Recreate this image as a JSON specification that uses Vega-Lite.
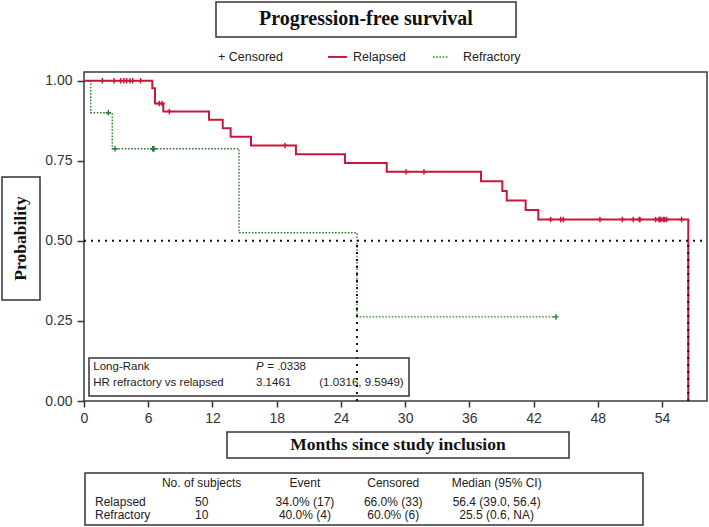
{
  "$schema": "https://vega.github.io/schema/vega-lite/v6.json",
  "width": 623,
  "height": 329,
  "autosize": {"type": "none"},
  "padding": {"left": 84, "top": 72, "right": 2, "bottom": 126},
  "background": "white",
  "data": {"values": [{"anchor": 1}]},
  "config": {
    "view": {"stroke": "#3a3a3a", "strokeWidth": 1.5},
    "font": "Liberation Sans",
    "axis": {
      "labelFont": "Liberation Sans",
      "labelFontSize": 14,
      "labelColor": "#333333",
      "tickColor": "#333333",
      "tickWidth": 1.5,
      "domain": false,
      "grid": false,
      "labelFlush": false
    }
  },
  "datasets": {
    "km": [
      {"t": 0, "s": 1, "group": "Relapsed"},
      {"t": 6.38, "s": 0.976, "group": "Relapsed"},
      {"t": 6.63, "s": 0.9286, "group": "Relapsed"},
      {"t": 7.41, "s": 0.9035, "group": "Relapsed"},
      {"t": 11.68, "s": 0.8777, "group": "Relapsed"},
      {"t": 12.96, "s": 0.8511, "group": "Relapsed"},
      {"t": 13.7, "s": 0.8245, "group": "Relapsed"},
      {"t": 15.6, "s": 0.7979, "group": "Relapsed"},
      {"t": 19.8, "s": 0.7704, "group": "Relapsed"},
      {"t": 24.38, "s": 0.7429, "group": "Relapsed"},
      {"t": 28.28, "s": 0.7154, "group": "Relapsed"},
      {"t": 37.09, "s": 0.6856, "group": "Relapsed"},
      {"t": 39.08, "s": 0.6558, "group": "Relapsed"},
      {"t": 39.49, "s": 0.626, "group": "Relapsed"},
      {"t": 41.26, "s": 0.5962, "group": "Relapsed"},
      {"t": 42.44, "s": 0.5664, "group": "Relapsed"},
      {"t": 56.45, "s": 0, "group": "Relapsed"},
      {"t": 0, "s": 1, "group": "Refractory"},
      {"t": 0.63, "s": 0.9, "group": "Refractory"},
      {"t": 2.64, "s": 0.7875, "group": "Refractory"},
      {"t": 14.48, "s": 0.525, "group": "Refractory"},
      {"t": 25.5, "s": 0.2625, "group": "Refractory"},
      {"t": 44.09, "s": 0.2625, "group": "Refractory"}
    ],
    "censor": [
      {"t": 1.71, "s": 1, "group": "Relapsed"},
      {"t": 2.8, "s": 1, "group": "Relapsed"},
      {"t": 3.42, "s": 1, "group": "Relapsed"},
      {"t": 3.73, "s": 1, "group": "Relapsed"},
      {"t": 3.98, "s": 1, "group": "Relapsed"},
      {"t": 4.29, "s": 1, "group": "Relapsed"},
      {"t": 4.55, "s": 1, "group": "Relapsed"},
      {"t": 5.29, "s": 1, "group": "Relapsed"},
      {"t": 7.03, "s": 0.9286, "group": "Relapsed"},
      {"t": 7.29, "s": 0.9286, "group": "Relapsed"},
      {"t": 7.97, "s": 0.9035, "group": "Relapsed"},
      {"t": 18.78, "s": 0.7979, "group": "Relapsed"},
      {"t": 30.08, "s": 0.7154, "group": "Relapsed"},
      {"t": 31.76, "s": 0.7154, "group": "Relapsed"},
      {"t": 43.6, "s": 0.5664, "group": "Relapsed"},
      {"t": 44.53, "s": 0.5664, "group": "Relapsed"},
      {"t": 44.77, "s": 0.5664, "group": "Relapsed"},
      {"t": 48.2, "s": 0.5664, "group": "Relapsed"},
      {"t": 50.29, "s": 0.5664, "group": "Relapsed"},
      {"t": 51.31, "s": 0.5664, "group": "Relapsed"},
      {"t": 51.87, "s": 0.5664, "group": "Relapsed"},
      {"t": 51.94, "s": 0.5664, "group": "Relapsed"},
      {"t": 53.4, "s": 0.5664, "group": "Relapsed"},
      {"t": 53.71, "s": 0.5664, "group": "Relapsed"},
      {"t": 53.8, "s": 0.5664, "group": "Relapsed"},
      {"t": 53.9, "s": 0.5664, "group": "Relapsed"},
      {"t": 54.12, "s": 0.5664, "group": "Relapsed"},
      {"t": 54.25, "s": 0.5664, "group": "Relapsed"},
      {"t": 54.43, "s": 0.5664, "group": "Relapsed"},
      {"t": 55.83, "s": 0.5664, "group": "Relapsed"},
      {"t": 2.27, "s": 0.9, "group": "Refractory"},
      {"t": 2.9, "s": 0.7875, "group": "Refractory"},
      {"t": 6.42, "s": 0.7875, "group": "Refractory"},
      {"t": 6.48, "s": 0.7875, "group": "Refractory"},
      {"t": 6.54, "s": 0.7875, "group": "Refractory"},
      {"t": 44.09, "s": 0.2625, "group": "Refractory"}
    ],
    "table": [
      {"group": "Relapsed", "n": "50", "event": "34.0% (17)", "censored": "66.0% (33)", "median": "56.4 (39.0, 56.4)"},
      {"group": "Refractory", "n": "10", "event": "40.0% (4)", "censored": "60.0% (6)", "median": "25.5 (0.6, NA)"}
    ]
  },
  "layer": [
    {
      "data": {"name": "km"},
      "transform": [{"filter": "datum.group === 'Refractory'"}],
      "mark": {"type": "line", "interpolate": "step-after", "color": "#2f7d32", "strokeWidth": 1.4, "strokeDash": [1.6, 1.6]},
      "encoding": {
        "x": {"field": "t", "type": "quantitative", "scale": {"domain": [0, 58.2], "nice": false, "zero": false},
              "axis": {"values": [0, 6, 12, 18, 24, 30, 36, 42, 48, 54], "title": null, "tickSize": 6, "labelPadding": 4}},
        "y": {"field": "s", "type": "quantitative", "scale": {"domain": [0, 1.027], "nice": false, "zero": false},
              "axis": {"values": [0, 0.25, 0.5, 0.75, 1], "format": ".2f", "title": null, "tickSize": 7, "labelPadding": 5}}
      }
    },
    {
      "data": {"name": "km"},
      "transform": [{"filter": "datum.group === 'Relapsed'"}],
      "mark": {"type": "line", "interpolate": "step-after", "color": "#c8163c", "strokeWidth": 2},
      "encoding": {
        "x": {"field": "t", "type": "quantitative", "title": null},
        "y": {"field": "s", "type": "quantitative", "title": null}
      }
    },
    {
      "data": {"name": "censor"},
      "mark": {"type": "point", "shape": "M0,-1L0,1M-1,0L1,0", "filled": false, "size": 30, "strokeWidth": 1.4, "opacity": 1},
      "encoding": {
        "x": {"field": "t", "type": "quantitative", "title": null},
        "y": {"field": "s", "type": "quantitative", "title": null},
        "color": {"field": "group", "type": "nominal", "scale": {"domain": ["Relapsed", "Refractory"], "range": ["#c8163c", "#2f7d32"]}, "legend": null}
      }
    },
    {
      "mark": {"type": "rule", "color": "#111111", "strokeWidth": 2, "strokeDash": [2, 5]},
      "encoding": {
        "x": {"datum": 0, "title": null},
        "x2": {"datum": 58.2},
        "y": {"datum": 0.5, "title": null}
      }
    },
    {
      "mark": {"type": "rule", "color": "#111111", "strokeWidth": 2, "strokeDash": [2, 5]},
      "encoding": {
        "x": {"datum": 25.5, "title": null},
        "y": {"datum": 0, "title": null},
        "y2": {"datum": 0.5}
      }
    },
    {
      "mark": {"type": "rule", "color": "#111111", "strokeWidth": 2, "strokeDash": [2, 5]},
      "encoding": {
        "x": {"datum": 56.45, "title": null},
        "y": {"datum": 0, "title": null},
        "y2": {"datum": 0.5}
      }
    },
    {
      "mark": {"type": "rect", "fill": "white", "stroke": "#333333", "strokeWidth": 1.5},
      "encoding": {
        "x": {"datum": 12.33, "title": null}, "x2": {"datum": 40.36},
        "y": {"datum": 1.2457, "title": null}, "y2": {"datum": 1.1364}
      }
    },
    {
      "mark": {"type": "text", "text": "Progression-free survival", "font": "Liberation Serif", "fontWeight": "bold", "fontSize": 20, "color": "#111111", "align": "center", "baseline": "middle"},
      "encoding": {"x": {"datum": 26.34, "title": null}, "y": {"datum": 1.191, "title": null}}
    },
    {
      "mark": {"type": "text", "text": "+ Censored", "fontSize": 12.5, "color": "#222222", "align": "left", "baseline": "middle"},
      "encoding": {"x": {"datum": 12.52, "title": null}, "y": {"datum": 1.074, "title": null}}
    },
    {
      "mark": {"type": "rule", "color": "#c8163c", "strokeWidth": 2},
      "encoding": {"x": {"datum": 22.79, "title": null}, "x2": {"datum": 24.57}, "y": {"datum": 1.074, "title": null}}
    },
    {
      "mark": {"type": "text", "text": "Relapsed", "fontSize": 12.5, "color": "#222222", "align": "left", "baseline": "middle"},
      "encoding": {"x": {"datum": 25.13, "title": null}, "y": {"datum": 1.074, "title": null}}
    },
    {
      "mark": {"type": "rule", "color": "#2f7d32", "strokeWidth": 1.4, "strokeDash": [1.6, 1.6]},
      "encoding": {"x": {"datum": 32.6, "title": null}, "x2": {"datum": 34.0}, "y": {"datum": 1.074, "title": null}}
    },
    {
      "mark": {"type": "text", "text": "Refractory", "fontSize": 12.5, "color": "#222222", "align": "left", "baseline": "middle"},
      "encoding": {"x": {"datum": 35.4, "title": null}, "y": {"datum": 1.074, "title": null}}
    },
    {
      "mark": {"type": "rect", "fill": "white", "stroke": "#333333", "strokeWidth": 1.5},
      "encoding": {
        "x": {"datum": -7.66, "title": null}, "x2": {"datum": -4.11},
        "y": {"datum": 0.6994, "title": null}, "y2": {"datum": 0.3153}
      }
    },
    {
      "mark": {"type": "text", "text": "Probability", "font": "Liberation Serif", "fontWeight": "bold", "fontSize": 17.5, "color": "#111111", "align": "center", "baseline": "middle", "angle": 270},
      "encoding": {"x": {"datum": -5.885, "title": null}, "y": {"datum": 0.5073, "title": null}}
    },
    {
      "mark": {"type": "rect", "fill": "white", "stroke": "#333333", "strokeWidth": 1.5},
      "encoding": {
        "x": {"datum": 13.36, "title": null}, "x2": {"datum": 45.31},
        "y": {"datum": -0.0968, "title": null}, "y2": {"datum": -0.178}
      }
    },
    {
      "mark": {"type": "text", "text": "Months since study inclusion", "font": "Liberation Serif", "fontWeight": "bold", "fontSize": 17.5, "color": "#111111", "align": "center", "baseline": "middle"},
      "encoding": {"x": {"datum": 29.33, "title": null}, "y": {"datum": -0.1374, "title": null}}
    },
    {
      "mark": {"type": "rect", "fillOpacity": 0, "stroke": "#333333", "strokeWidth": 1.5},
      "encoding": {
        "x": {"datum": 0.467, "title": null}, "x2": {"datum": 30.36},
        "y": {"datum": 0.1342, "title": null}, "y2": {"datum": 0.0156}
      }
    },
    {
      "mark": {"type": "text", "text": "Long-Rank", "fontSize": 11.5, "color": "#222222", "align": "left", "baseline": "middle"},
      "encoding": {"x": {"datum": 0.869, "title": null}, "y": {"datum": 0.1071, "title": null}}
    },
    {
      "mark": {"type": "text", "text": "HR refractory vs relapsed", "fontSize": 11.5, "color": "#222222", "align": "left", "baseline": "middle"},
      "encoding": {"x": {"datum": 0.869, "title": null}, "y": {"datum": 0.0553, "title": null}}
    },
    {
      "mark": {"type": "text", "text": "P", "fontStyle": "italic", "fontSize": 11.5, "color": "#222222", "align": "left", "baseline": "middle"},
      "encoding": {"x": {"datum": 16.07, "title": null}, "y": {"datum": 0.1071, "title": null}}
    },
    {
      "mark": {"type": "text", "text": "= .0338", "fontSize": 11.5, "color": "#222222", "align": "left", "baseline": "middle"},
      "encoding": {"x": {"datum": 17.12, "title": null}, "y": {"datum": 0.1071, "title": null}}
    },
    {
      "mark": {"type": "text", "text": "3.1461", "fontSize": 11.5, "color": "#222222", "align": "left", "baseline": "middle"},
      "encoding": {"x": {"datum": 16.07, "title": null}, "y": {"datum": 0.0553, "title": null}}
    },
    {
      "mark": {"type": "text", "text": "(1.0316, 9.5949)", "fontSize": 11.5, "color": "#222222", "align": "left", "baseline": "middle"},
      "encoding": {"x": {"datum": 21.98, "title": null}, "y": {"datum": 0.0553, "title": null}}
    },
    {
      "mark": {"type": "rect", "fill": "white", "stroke": "#333333", "strokeWidth": 1.5},
      "encoding": {
        "x": {"datum": 0.093, "title": null}, "x2": {"datum": 52.22},
        "y": {"datum": -0.2248, "title": null}, "y2": {"datum": -0.3871}
      }
    },
    {
      "mark": {"type": "text", "text": "No. of subjects", "fontSize": 12, "color": "#222222", "align": "center", "baseline": "middle"},
      "encoding": {"x": {"datum": 10.99, "title": null}, "y": {"datum": -0.257, "title": null}}
    },
    {
      "mark": {"type": "text", "text": "Event", "fontSize": 12, "color": "#222222", "align": "center", "baseline": "middle"},
      "encoding": {"x": {"datum": 20.64, "title": null}, "y": {"datum": -0.257, "title": null}}
    },
    {
      "mark": {"type": "text", "text": "Censored", "fontSize": 12, "color": "#222222", "align": "center", "baseline": "middle"},
      "encoding": {"x": {"datum": 28.89, "title": null}, "y": {"datum": -0.257, "title": null}}
    },
    {
      "mark": {"type": "text", "text": "Median (95% CI)", "fontSize": 12, "color": "#222222", "align": "center", "baseline": "middle"},
      "encoding": {"x": {"datum": 38.55, "title": null}, "y": {"datum": -0.257, "title": null}}
    },
    {
      "data": {"name": "table"},
      "transform": [{"filter": "datum.group === 'Relapsed'"}],
      "encoding": {"y": {"datum": -0.3144, "title": null}},
      "layer": [
        {"mark": {"type": "text", "fontSize": 12, "color": "#222222", "align": "left", "baseline": "middle"},
         "encoding": {"x": {"datum": 1.03, "title": null}, "text": {"field": "group"}}},
        {"mark": {"type": "text", "fontSize": 12, "color": "#222222", "align": "center", "baseline": "middle"},
         "encoding": {"x": {"datum": 10.99, "title": null}, "text": {"field": "n"}}},
        {"mark": {"type": "text", "fontSize": 12, "color": "#222222", "align": "center", "baseline": "middle"},
         "encoding": {"x": {"datum": 20.64, "title": null}, "text": {"field": "event"}}},
        {"mark": {"type": "text", "fontSize": 12, "color": "#222222", "align": "center", "baseline": "middle"},
         "encoding": {"x": {"datum": 28.89, "title": null}, "text": {"field": "censored"}}},
        {"mark": {"type": "text", "fontSize": 12, "color": "#222222", "align": "center", "baseline": "middle"},
         "encoding": {"x": {"datum": 38.55, "title": null}, "text": {"field": "median"}}}
      ]
    },
    {
      "data": {"name": "table"},
      "transform": [{"filter": "datum.group === 'Refractory'"}],
      "encoding": {"y": {"datum": -0.3559, "title": null}},
      "layer": [
        {"mark": {"type": "text", "fontSize": 12, "color": "#222222", "align": "left", "baseline": "middle"},
         "encoding": {"x": {"datum": 1.03, "title": null}, "text": {"field": "group"}}},
        {"mark": {"type": "text", "fontSize": 12, "color": "#222222", "align": "center", "baseline": "middle"},
         "encoding": {"x": {"datum": 10.99, "title": null}, "text": {"field": "n"}}},
        {"mark": {"type": "text", "fontSize": 12, "color": "#222222", "align": "center", "baseline": "middle"},
         "encoding": {"x": {"datum": 20.64, "title": null}, "text": {"field": "event"}}},
        {"mark": {"type": "text", "fontSize": 12, "color": "#222222", "align": "center", "baseline": "middle"},
         "encoding": {"x": {"datum": 28.89, "title": null}, "text": {"field": "censored"}}},
        {"mark": {"type": "text", "fontSize": 12, "color": "#222222", "align": "center", "baseline": "middle"},
         "encoding": {"x": {"datum": 38.55, "title": null}, "text": {"field": "median"}}}
      ]
    }
  ]
}
